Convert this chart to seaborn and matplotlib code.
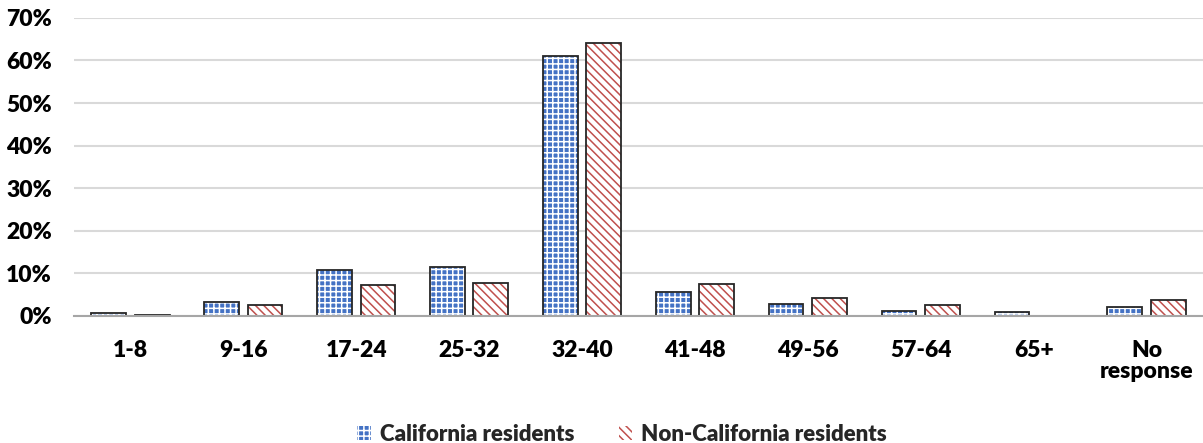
import matplotlib
matplotlib.use("Agg")
import matplotlib.pyplot as plt
import matplotlib.patches as mpatches
import seaborn as sns
import pandas as pd
from matplotlib.ticker import PercentFormatter

# values (share of respondents)
age_groups = ["1-8", "9-16", "17-24", "25-32", "32-40", "41-48",
              "49-56", "57-64", "65+", "No\nresponse"]
california = [0.008, 0.034, 0.107, 0.114, 0.611, 0.056, 0.027, 0.011, 0.009, 0.021]
non_california = [0.003, 0.026, 0.072, 0.078, 0.640, 0.076, 0.042, 0.025, 0.0, 0.038]
series_names = ["California residents", "Non-California residents"]

df = pd.DataFrame({
    "age": age_groups * 2,
    "share": california + non_california,
    "group": [series_names[0]] * len(age_groups) + [series_names[1]] * len(age_groups),
})

sns.set_theme(style="white")
plt.rcParams["font.family"] = ["Lato", "DejaVu Sans"]
plt.rcParams["font.weight"] = "heavy"
plt.rcParams["hatch.linewidth"] = 1.1

fig = plt.figure(figsize=(12.03, 4.43), dpi=100)
ax = fig.add_axes([0.0615, 0.2867, 0.9385, 0.673])

sns.barplot(data=df, x="age", y="share", hue="group", order=age_groups,
            hue_order=series_names, palette=["white", "white"],
            width=0.77, gap=0.2, ax=ax, legend=False, zorder=3)

styles = [
    dict(face="#4472c4", hatch="+++", hcolor="white"),
    dict(face="white", hatch="\\\\\\\\", hcolor="#c0504d"),
]
for cont, st in zip(ax.containers, styles):
    for bar in cont:
        bar.set_facecolor(st["face"])
        bar.set_edgecolor(st["hcolor"])
        bar.set_hatch(st["hatch"])
        bar.set_linewidth(0)
        outline = mpatches.Rectangle(bar.get_xy(), bar.get_width(), bar.get_height(),
                                     fill=False, edgecolor="#262626", linewidth=1.3, zorder=4)
        ax.add_patch(outline)

ax.set_ylim(0, 0.70)
ax.set_xlim(-0.5, len(age_groups) - 0.5)
ax.yaxis.set_major_formatter(PercentFormatter(1.0, decimals=0))
ax.set_yticks([i / 10 for i in range(8)])
ax.grid(axis="y", color="#d9d9d9", linewidth=1.5, zorder=0)
ax.set_axisbelow(True)
for side in ["top", "right", "left"]:
    ax.spines[side].set_visible(False)
ax.spines["bottom"].set_color("#a6a6a6")
ax.spines["bottom"].set_linewidth(1.5)
ax.spines["bottom"].set_zorder(5)
ax.set_xlabel("")
ax.set_ylabel("")
ax.tick_params(axis="both", length=0, labelsize=16.5, colors="black")
ax.tick_params(axis="y", pad=16)
ax.tick_params(axis="x", pad=17)
for lab in ax.get_xticklabels():
    lab.set_fontweight("heavy")
    lab.set_linespacing(1.0)
for lab in ax.get_yticklabels():
    lab.set_fontweight("heavy")

handles = [
    mpatches.Patch(facecolor=styles[0]["face"], edgecolor=styles[0]["hcolor"],
                   hatch="+++", linewidth=0),
    mpatches.Patch(facecolor=styles[1]["face"], edgecolor=styles[1]["hcolor"],
                   hatch="\\\\\\\\", linewidth=0),
]
fig.legend(handles, series_names, loc="lower center", bbox_to_anchor=(0.517, -0.005),
           ncol=2, frameon=False, prop={"weight": "heavy", "size": 16},
           handlelength=0.6, handleheight=0.6, handletextpad=0.4, columnspacing=2.0,
           borderaxespad=0, borderpad=0)

fig.savefig("out.png", dpi=100)
